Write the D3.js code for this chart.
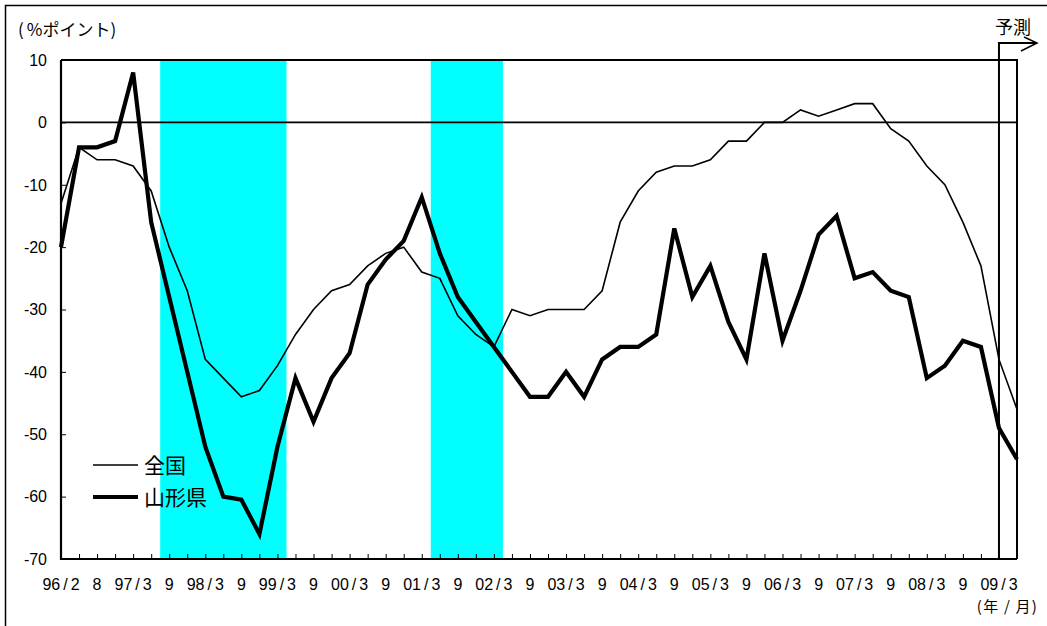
<!DOCTYPE html>
<html>
<head>
<meta charset="utf-8">
<script src="https://cdn.jsdelivr.net/npm/d3@7"></script>
<style>
  html, body { margin: 0; padding: 0; background: #fff; }
  svg { display: block; }
  .num { font-family: "Liberation Sans", Arial, sans-serif; }
  .jp  { font-family: "Noto Sans CJK JP", "Liberation Sans", sans-serif; }
</style>
</head>
<body>
<svg id="chart" width="1047" height="626"></svg>
<script>
// Quarterly survey periods (year/month)
const periods = [
  "96/2","96/5","96/8","96/11",
  "97/3","97/6","97/9","97/12",
  "98/3","98/6","98/9","98/12",
  "99/3","99/6","99/9","99/12",
  "00/3","00/6","00/9","00/12",
  "01/3","01/6","01/9","01/12",
  "02/3","02/6","02/9","02/12",
  "03/3","03/6","03/9","03/12",
  "04/3","04/6","04/9","04/12",
  "05/3","05/6","05/9","05/12",
  "06/3","06/6","06/9","06/12",
  "07/3","07/6","07/9","07/12",
  "08/3","08/6","08/9","08/12",
  "09/3","09/6"
];

// Axis labels shown under every other period
const tickLabels = {
  "96/2":"96/2","96/8":"8","97/3":"97/3","97/9":"9","98/3":"98/3","98/9":"9",
  "99/3":"99/3","99/9":"9","00/3":"00/3","00/9":"9","01/3":"01/3","01/9":"9",
  "02/3":"02/3","02/9":"9","03/3":"03/3","03/9":"9","04/3":"04/3","04/9":"9",
  "05/3":"05/3","05/9":"9","06/3":"06/3","06/9":"9","07/3":"07/3","07/9":"9",
  "08/3":"08/3","08/9":"9","09/3":"09/3"
};

// DI (% points): nationwide
const zenkoku = [
  -13, -4, -6, -6, -7, -11, -20, -27, -38, -41, -44, -43,
  -39, -34, -30, -27, -26, -23, -21, -20, -24, -25, -31, -34,
  -36, -30, -31, -30, -30, -30, -27, -16, -11, -8, -7, -7,
  -6, -3, -3, 0, 0, 2, 1, 2, 3, 3, -1, -3,
  -7, -10, -16, -23, -38, -46
];

// DI (% points): Yamagata prefecture
const yamagata = [
  -20, -4, -4, -3, 8, -16, -28, -40, -52, -60, -60.5, -66,
  -52, -41, -48, -41, -37, -26, -22, -19, -12, -21, -28, -32,
  -36, -40, -44, -44, -40, -44, -38, -36, -36, -34, -17, -28,
  -23, -32, -38, -21, -35, -27, -18, -15, -25, -24, -27, -28,
  -41, -39, -35, -36, -49, -54
];

// Recession periods (from, to): shaded half a step after each period
const recessions = [["97/6", "99/3"], ["01/3", "02/3"]];

// First forecast period
const forecastStart = "09/3";

const yTicks = [10, 0, -10, -20, -30, -40, -50, -60, -70];

const svg = d3.select("#chart");
const M = { left: 61, right: 1017, top: 60, bottom: 559 };

const x = d3.scalePoint().domain(periods).range([M.left, M.right]).padding(0);
const y = d3.scaleLinear().domain([-70, 10]).range([M.bottom, M.top]);
const step = x.step();

// Outer frame
svg.append("path")
  .attr("d", "M5.5,630 L5.5,5.5 L1050,5.5")
  .attr("fill", "none").attr("stroke", "#000").attr("stroke-width", 1.5);

// Recession shading
svg.append("g").selectAll("rect").data(recessions).join("rect")
  .attr("x", d => x(d[0]) + step / 2)
  .attr("width", d => x(d[1]) - x(d[0]))
  .attr("y", M.top)
  .attr("height", M.bottom - M.top)
  .attr("fill", "#00ffff");

// Plot border (top and right)
svg.append("path")
  .attr("d", `M${M.left},${M.top} L${M.right},${M.top} L${M.right},${M.bottom}`)
  .attr("fill", "none").attr("stroke", "#000").attr("stroke-width", 2);

// Zero line
svg.append("line")
  .attr("x1", M.left).attr("x2", M.right)
  .attr("y1", y(0)).attr("y2", y(0))
  .attr("stroke", "#000").attr("stroke-width", 1.6);

// Y axis with inward ticks
const yAxis = svg.append("g")
  .attr("transform", `translate(${M.left},0)`)
  .call(d3.axisRight(y).tickValues(yTicks).tickSize(5).tickFormat(""));
yAxis.select(".domain").remove();
yAxis.selectAll(".tick line").attr("stroke", "#000").attr("stroke-width", 1);

svg.append("g").selectAll("text").data(yTicks).join("text")
  .attr("class", "num")
  .attr("x", 47).attr("y", d => y(d))
  .attr("dy", "0.36em")
  .attr("text-anchor", "end")
  .attr("font-size", 16)
  .attr("fill", "#000")
  .text(d => d);

// X axis with inward ticks
const xAxis = svg.append("g")
  .attr("transform", `translate(0,${M.bottom})`)
  .call(d3.axisTop(x).tickSize(5).tickFormat(""));
xAxis.select(".domain").remove();
xAxis.selectAll(".tick line").attr("stroke", "#000").attr("stroke-width", 1);

// X tick labels, with a little air around the slash
const xl = svg.append("g").selectAll("text")
  .data(periods.filter(p => tickLabels[p] !== undefined)).join("text")
  .attr("class", "num")
  .attr("x", d => x(d)).attr("y", 590)
  .attr("text-anchor", "middle")
  .attr("font-size", 16)
  .attr("fill", "#000");
xl.each(function(d) {
  const parts = tickLabels[d].split("/");
  const t = d3.select(this);
  t.append("tspan").text(parts[0]);
  if (parts.length > 1) {
    t.append("tspan").attr("dx", 3).text("/");
    t.append("tspan").attr("dx", 3).text(parts[1]);
  }
});

// Axis lines (left and bottom)
svg.append("path")
  .attr("d", `M${M.left},${M.top} L${M.left},${M.bottom} L${M.right},${M.bottom}`)
  .attr("fill", "none").attr("stroke", "#000").attr("stroke-width", 2.2);

// Series lines
const line = d3.line().x((d, i) => x(periods[i])).y(d => y(d));

svg.append("path").datum(zenkoku)
  .attr("d", line)
  .attr("fill", "none").attr("stroke", "#000").attr("stroke-width", 1.6)
  .attr("stroke-linejoin", "miter");

svg.append("path").datum(yamagata)
  .attr("d", line)
  .attr("fill", "none").attr("stroke", "#000").attr("stroke-width", 4.2)
  .attr("stroke-linejoin", "miter");

// Forecast marker
const fx = x(forecastStart);
svg.append("path")
  .attr("d", `M${fx},${M.bottom} L${fx},43 L1037,43`)
  .attr("fill", "none").attr("stroke", "#000").attr("stroke-width", 2);
svg.append("path")
  .attr("d", "M1024,37 L1037,43 L1021,51")
  .attr("fill", "none").attr("stroke", "#000").attr("stroke-width", 1.5);
svg.append("text")
  .attr("class", "jp")
  .attr("x", 1013).attr("y", 34)
  .attr("text-anchor", "middle")
  .attr("font-size", 18)
  .attr("fill", "#000")
  .text("予測");

// Unit labels
const unitY = svg.append("text")
  .attr("class", "jp")
  .attr("x", 18).attr("y", 36)
  .attr("font-size", 17)
  .attr("fill", "#000");
unitY.append("tspan").text("(");
unitY.append("tspan").attr("dx", 3).text("%ポイント)");

svg.append("text")
  .attr("class", "jp")
  .attr("x", 1038).attr("y", 612)
  .attr("text-anchor", "end")
  .attr("font-size", 15)
  .attr("letter-spacing", 1.2)
  .attr("fill", "#000")
  .text("(年 / 月)");

// Legend
const legend = [
  { name: "全国", width: 1.6, y: 465 },
  { name: "山形県", width: 4.2, y: 497 }
];
const lg = svg.append("g").selectAll("g").data(legend).join("g");
lg.append("line")
  .attr("x1", 93).attr("x2", 138)
  .attr("y1", d => d.y).attr("y2", d => d.y)
  .attr("stroke", "#000").attr("stroke-width", d => d.width);
lg.append("text")
  .attr("class", "jp")
  .attr("x", 144).attr("y", d => d.y)
  .attr("dy", "0.36em")
  .attr("font-size", 21)
  .attr("fill", "#000")
  .text(d => d.name);
</script>
</body>
</html>
